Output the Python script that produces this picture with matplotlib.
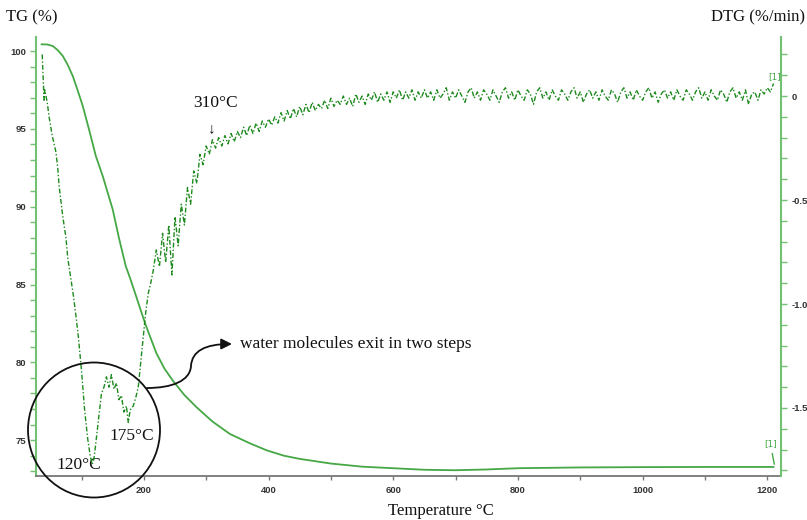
import numpy as np
import matplotlib
matplotlib.use("Agg")
import matplotlib.pyplot as plt
from matplotlib.patches import Ellipse, FancyArrowPatch
from matplotlib.path import Path
from matplotlib.ticker import MultipleLocator

# TG curve (%)
tg_temp = [36, 45, 54, 62, 70, 78, 86, 94, 102, 112, 123, 134, 150, 160, 171,
           178, 188, 202, 220, 233, 247, 265, 285, 310, 338, 370, 397, 425,
           450, 500, 550, 600, 650, 700, 750, 800, 900, 1000, 1100, 1210]
tg_val = [100.43, 100.42, 100.32, 100.05, 99.68, 99.1, 98.39, 97.45, 96.47,
          94.97, 93.25, 91.97, 89.83, 88.0, 86.18, 85.4, 84.2, 82.5, 80.6,
          79.6, 78.8, 77.9, 77.1, 76.2, 75.4, 74.8, 74.35, 74.0, 73.8, 73.5,
          73.3, 73.2, 73.1, 73.07, 73.12, 73.2, 73.25, 73.27, 73.28, 73.28]

# DTG (%/min), dehydration region
dtg_temp_a = [37, 38, 39, 40, 41, 43, 45, 48, 53, 59, 62, 64, 70, 75, 78, 81,
              87, 92, 95, 100, 105, 110, 114, 117, 119, 121, 124, 127, 132,
              136, 140, 144, 148, 152, 156, 160, 164, 168, 172, 175, 178, 183,
              187, 191, 195, 199, 203, 207, 211, 215]
dtg_val_a = [0.20, 0.12, 0.05, -0.02, 0.03, 0.00, -0.03, -0.10, -0.19, -0.27,
             -0.35, -0.43, -0.58, -0.68, -0.78, -0.84, -0.96, -1.08, -1.16,
             -1.32, -1.51, -1.65, -1.73, -1.77, -1.76, -1.72, -1.64, -1.56,
             -1.43, -1.40, -1.35, -1.40, -1.34, -1.41, -1.38, -1.46, -1.44,
             -1.52, -1.49, -1.57, -1.51, -1.49, -1.45, -1.40, -1.28, -1.16,
             -1.04, -0.95, -0.90, -0.84]

# DTG (%/min), noisy part sampled every 5 degC from 220 to 1210
dtg_temp_b = list(range(220, 1215, 5))
dtg_val_b = [
    -0.74, -0.82, -0.66, -0.80, -0.62, -0.86, -0.58, -0.72, -0.52, -0.62,
    -0.44, -0.52, -0.36, -0.42, -0.28, -0.33, -0.24, -0.28, -0.21, -0.25,
    -0.20, -0.24, -0.19, -0.23, -0.18, -0.22, -0.17, -0.20, -0.15, -0.19,
    -0.14, -0.18, -0.13, -0.17, -0.12, -0.15, -0.11, -0.14, -0.10, -0.13,
    -0.08, -0.12, -0.07, -0.11, -0.06, -0.10, -0.05, -0.09, -0.04, -0.08,
    -0.03, -0.07, -0.04, -0.06, -0.02, -0.06, -0.01, -0.05, -0.02, -0.04,
    0.00, -0.04, -0.01, -0.05, 0.01, -0.03, 0.00, -0.04, 0.01, -0.02,
    0.02, -0.03, 0.01, -0.02, 0.02, -0.03, 0.02, -0.01, 0.03, -0.02,
    0.02, -0.01, 0.03, -0.02, 0.02, -0.01, 0.03, -0.01, 0.02, -0.02,
    0.03, -0.01, 0.01, 0.04, -0.02, 0.02, -0.01, 0.03, 0.00, -0.03,
    0.02, 0.04, -0.01, 0.02, -0.02, 0.03, 0.01, -0.02, 0.03, 0.00,
    -0.03, 0.02, 0.04, -0.01, 0.02, -0.02, 0.03, 0.00, -0.02, 0.03,
    0.01, -0.04, 0.02, 0.04, -0.01, 0.02, -0.02, 0.03, 0.00, -0.02,
    0.03, 0.01, -0.02, 0.02, 0.04, -0.01, 0.02, -0.03, 0.01, 0.03,
    -0.01, 0.02, -0.02, 0.03, 0.00, -0.02, 0.03, 0.01, -0.03, 0.02,
    0.04, -0.01, 0.02, -0.02, 0.03, 0.00, -0.02, 0.02, 0.04, -0.01,
    0.02, -0.03, 0.01, 0.03, -0.01, 0.02, -0.02, 0.03, 0.00, -0.02,
    0.03, 0.01, -0.02, 0.02, 0.04, -0.01, 0.02, -0.02, 0.03, 0.00,
    -0.02, 0.03, 0.01, -0.03, 0.02, 0.04, -0.01, 0.02, -0.02, 0.03,
    -0.04, 0.01, 0.02, -0.02, 0.03, 0.01, 0.04, 0.02, 0.06]

dtg_temp = dtg_temp_a + dtg_temp_b
dtg_val = dtg_val_a + dtg_val_b

axis_green = '#72c072'
tg_green = '#45a845'
dtg_green = '#1d8a1d'
lbl_col = '#333333'
serif = ['Liberation Serif', 'DejaVu Serif']

W, H = 807, 520
fig = plt.figure(figsize=(W / 100, H / 100), dpi=100)
ax = fig.add_axes([36 / W, 44 / H, 745 / W, 439 / H])
ax2 = ax.twinx()

ax.plot(tg_temp, tg_val, color=tg_green, lw=1.3)
ax2.plot(dtg_temp, dtg_val, color=dtg_green, lw=1.0,
         ls=(0, (3.5, 1.5, 1, 1.5)))

ax.set_xlim(27, 1222)
ax.set_ylim(72.7, 100.9)
ax2.set_ylim(-1.827, 0.284)

for a in (ax, ax2):
    a.spines['top'].set_visible(False)
ax.spines['right'].set_visible(False)
ax2.spines['left'].set_visible(False)
ax2.spines['bottom'].set_visible(False)
ax.spines['left'].set_color(axis_green)
ax.spines['left'].set_linewidth(1.5)
ax2.spines['right'].set_color(axis_green)
ax2.spines['right'].set_linewidth(1.5)
ax.spines['bottom'].set_color('#777777')
ax.spines['bottom'].set_linewidth(1.3)

ax.xaxis.set_major_locator(MultipleLocator(200))
ax.xaxis.set_minor_locator(MultipleLocator(100))
ax.yaxis.set_major_locator(MultipleLocator(5))
ax.yaxis.set_minor_locator(MultipleLocator(1))
ax2.yaxis.set_major_locator(MultipleLocator(0.5))
ax2.yaxis.set_minor_locator(MultipleLocator(0.1))
ax2.yaxis.set_major_formatter(
    plt.FuncFormatter(lambda v, p: '0' if abs(v) < 1e-9 else f'{v:.1f}'))
ax.set_xticks([200, 400, 600, 800, 1000, 1200])

tick_font = dict(family='Liberation Sans', weight='bold', size=6.8)
ax.tick_params(axis='x', which='both', direction='out', colors='#777777',
               length=3, width=1, labelcolor=lbl_col, pad=4)
ax.tick_params(axis='y', which='both', direction='out', colors=axis_green,
               length=4, width=1, labelcolor=lbl_col, pad=3)
ax2.tick_params(axis='y', which='both', direction='out', colors=axis_green,
                length=4, width=1, labelcolor=lbl_col, pad=4)
for lab in ax.get_xticklabels() + ax.get_yticklabels() + ax2.get_yticklabels():
    lab.set_fontproperties(tick_font)

# curve end labels
ax.annotate('[1]', xy=(1212, 73.28), xytext=(1205, 74.5), color=tg_green,
            fontsize=6.5, ha='center', va='bottom',
            arrowprops=dict(arrowstyle='-', color=tg_green, lw=1))
ax2.text(1212, 0.07, '[1]', color=tg_green, fontsize=6.5, ha='center',
         va='bottom')

# axis titles
fig.text(6 / W, 1 - 17 / H, 'TG (%)', family=serif, fontsize=12,
         ha='left', va='center', color='#111111')
fig.text(805 / W, 1 - 17 / H, 'DTG (%/min)', family=serif, fontsize=12,
         ha='right', va='center', color='#111111')
fig.text(441 / W, 1 - 511 / H, 'Temperature °C', family=serif, fontsize=12,
         ha='center', va='center', color='#111111')

# annotations
ax.text(315, 96.66, '310°C', family=serif, fontsize=12.5, ha='center',
        va='center', color='#111111')
ax.text(309, 95.0, '↓', family=['Liberation Serif', 'DejaVu Sans'],
        fontsize=11, ha='center', va='center', color='#111111')
ax.text(96, 73.4, '120°C', family=serif, fontsize=12.5, ha='center',
        va='center', color='#111111')
ax.text(181, 75.3, '175°C', family=serif, fontsize=12.5, ha='center',
        va='center', color='#111111')
ax.text(354, 81.17, 'water molecules exit in two steps', family=serif,
        fontsize=12.5, ha='left', va='center', color='#111111')

circle = Ellipse((94 / W, 1 - 430 / H), 132 / W, 135 / H,
                 transform=fig.transFigure, fill=False, ec='#111111', lw=1.3,
                 clip_on=False)
fig.add_artist(circle)

def fp(x, y):
    return (x / W, 1 - y / H)

verts = [fp(147, 388), fp(172, 388), fp(190, 381), fp(191, 366),
         fp(192, 351), fp(205, 344), fp(232, 344)]
codes = [Path.MOVETO, Path.CURVE4, Path.CURVE4, Path.CURVE4,
         Path.CURVE4, Path.CURVE4, Path.CURVE4]
arrow = FancyArrowPatch(path=Path(verts, codes), arrowstyle='-|>',
                        mutation_scale=16, color='#111111', lw=1.3,
                        transform=fig.transFigure)
fig.add_artist(arrow)

fig.savefig('out.png', dpi=100)
